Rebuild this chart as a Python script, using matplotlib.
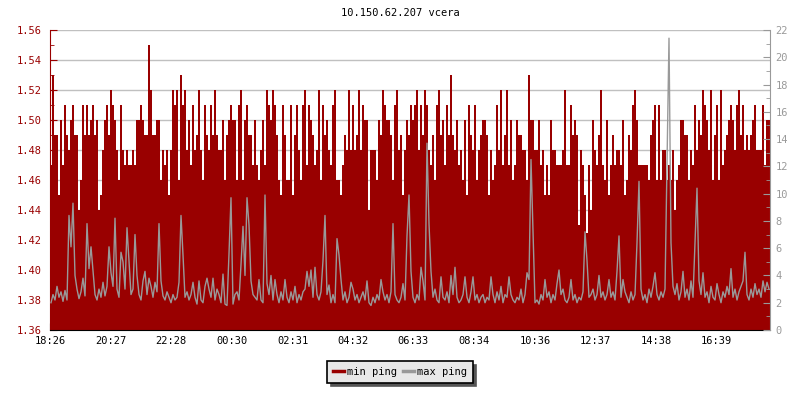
import numpy as np
import matplotlib.pyplot as plt
from matplotlib.ticker import MultipleLocator, FormatStrFormatter
from matplotlib.lines import Line2D

plt.rcParams['font.family'] = 'DejaVu Sans Mono'

title = '10.150.62.207 vcera'
series_names = ['min ping', 'max ping']
time_labels = ['18:26', '20:27', '22:28', '00:30', '02:31', '04:32',
               '06:33', '08:34', '10:36', '12:37', '14:38', '16:39']
start_time = '18:26'
step_min = 4  # one sample every 4 minutes

# min ping [ms], left axis
min_ping = [
    1.47, 1.53, 1.49, 1.49, 1.45, 1.50, 1.47, 1.51, 1.49, 1.48, 1.50, 1.51, 1.49, 1.49, 1.44, 1.46, 1.51, 1.49,
    1.51, 1.49, 1.50, 1.51, 1.49, 1.50, 1.44, 1.45, 1.48, 1.50, 1.51, 1.49, 1.52, 1.51, 1.50, 1.48, 1.46, 1.51,
    1.48, 1.47, 1.48, 1.47, 1.47, 1.48, 1.47, 1.50, 1.50, 1.51, 1.50, 1.49, 1.49, 1.55, 1.52, 1.49, 1.49, 1.50,
    1.50, 1.46, 1.48, 1.47, 1.48, 1.45, 1.48, 1.52, 1.51, 1.52, 1.46, 1.53, 1.51, 1.52, 1.48, 1.50, 1.47, 1.51,
    1.48, 1.49, 1.52, 1.48, 1.46, 1.51, 1.49, 1.48, 1.51, 1.49, 1.52, 1.49, 1.48, 1.48, 1.50, 1.46, 1.49, 1.50,
    1.51, 1.50, 1.50, 1.46, 1.51, 1.52, 1.46, 1.50, 1.51, 1.49, 1.49, 1.47, 1.50, 1.47, 1.46, 1.48, 1.50, 1.47,
    1.52, 1.51, 1.50, 1.52, 1.51, 1.49, 1.46, 1.45, 1.51, 1.49, 1.46, 1.46, 1.51, 1.45, 1.49, 1.51, 1.48, 1.46,
    1.51, 1.52, 1.47, 1.51, 1.50, 1.49, 1.47, 1.48, 1.52, 1.46, 1.51, 1.49, 1.50, 1.48, 1.47, 1.51, 1.52, 1.46,
    1.46, 1.45, 1.47, 1.49, 1.48, 1.52, 1.48, 1.51, 1.48, 1.49, 1.52, 1.48, 1.51, 1.50, 1.50, 1.44, 1.48, 1.48,
    1.48, 1.46, 1.50, 1.49, 1.52, 1.51, 1.50, 1.50, 1.49, 1.46, 1.51, 1.52, 1.48, 1.49, 1.45, 1.48, 1.50, 1.49,
    1.51, 1.50, 1.51, 1.52, 1.48, 1.51, 1.49, 1.52, 1.51, 1.48, 1.47, 1.49, 1.46, 1.51, 1.52, 1.49, 1.50, 1.47,
    1.51, 1.49, 1.53, 1.49, 1.48, 1.50, 1.47, 1.48, 1.46, 1.50, 1.45, 1.51, 1.49, 1.48, 1.51, 1.46, 1.48, 1.49,
    1.50, 1.50, 1.49, 1.45, 1.48, 1.46, 1.47, 1.51, 1.48, 1.52, 1.47, 1.49, 1.52, 1.47, 1.50, 1.46, 1.47, 1.50,
    1.49, 1.49, 1.48, 1.48, 1.46, 1.53, 1.50, 1.50, 1.48, 1.48, 1.50, 1.47, 1.48, 1.45, 1.47, 1.45, 1.50, 1.48,
    1.48, 1.47, 1.47, 1.47, 1.48, 1.52, 1.47, 1.47, 1.51, 1.49, 1.50, 1.49, 1.43, 1.48, 1.47, 1.45, 1.425, 1.47,
    1.44, 1.50, 1.48, 1.47, 1.49, 1.52, 1.47, 1.46, 1.50, 1.45, 1.47, 1.49, 1.47, 1.48, 1.48, 1.47, 1.50, 1.45,
    1.46, 1.49, 1.48, 1.51, 1.52, 1.50, 1.47, 1.47, 1.47, 1.47, 1.47, 1.46, 1.49, 1.50, 1.51, 1.46, 1.51, 1.46,
    1.48, 1.48, 1.46, 1.47, 1.46, 1.48, 1.44, 1.46, 1.47, 1.50, 1.50, 1.49, 1.49, 1.46, 1.48, 1.47, 1.51, 1.48,
    1.50, 1.49, 1.52, 1.51, 1.50, 1.48, 1.52, 1.46, 1.49, 1.51, 1.46, 1.52, 1.47, 1.48, 1.49, 1.50, 1.51, 1.50,
    1.48, 1.51, 1.52, 1.49, 1.51, 1.48, 1.49, 1.48, 1.49, 1.50, 1.51, 1.48, 1.48, 1.48, 1.51, 1.47, 1.50, 1.50,
]

# max ping [ms], right axis
max_ping = [
    2.0, 2.6, 2.2, 3.2, 2.4, 2.8, 2.1, 2.9, 2.2, 8.4, 6.1, 9.3, 4.0, 3.0, 2.3, 2.8, 3.8, 2.5,
    7.8, 4.5, 6.1, 4.3, 2.6, 2.2, 3.0, 2.4, 3.5, 2.5, 3.2, 6.1, 4.2, 3.2, 8.2, 3.0, 2.4, 5.7,
    5.0, 3.0, 7.5, 5.0, 2.6, 3.0, 7.0, 4.0, 2.6, 2.2, 3.6, 4.3, 2.6, 3.8, 3.2, 2.4, 3.5, 2.8,
    7.8, 3.6, 2.5, 2.2, 2.8, 2.4, 2.0, 2.6, 2.2, 2.4, 3.5, 8.4, 5.5, 2.4, 2.8, 2.2, 2.6, 3.5,
    2.4, 1.9, 3.6, 2.2, 2.0, 3.2, 3.8, 3.0, 2.4, 3.8, 2.2, 3.0, 2.6, 2.0, 4.1, 1.9, 1.8, 5.6,
    9.7, 1.9, 2.6, 2.8, 2.2, 4.8, 7.6, 4.0, 9.7, 7.7, 3.6, 2.6, 2.4, 2.2, 3.7, 2.2, 2.0, 9.9,
    3.4, 2.6, 4.0, 2.2, 3.7, 2.6, 2.0, 2.8, 2.2, 3.7, 2.4, 2.0, 2.8, 2.2, 3.2, 2.0, 2.6, 2.2,
    2.8, 3.0, 4.3, 3.2, 4.4, 2.4, 4.6, 2.6, 2.2, 2.8, 5.1, 8.4, 2.6, 3.3, 2.0, 2.6, 2.0, 6.7,
    5.5, 3.7, 2.2, 2.8, 2.0, 2.4, 3.5, 3.0, 2.2, 2.6, 2.0, 2.4, 2.8, 2.2, 3.6, 2.0, 1.8, 2.4,
    2.0, 2.6, 2.2, 3.7, 2.8, 2.2, 2.6, 2.0, 2.8, 7.8, 2.6, 2.2, 2.0, 2.4, 3.4, 2.2, 6.9, 9.9,
    4.3, 2.4, 2.0, 2.6, 2.2, 4.6, 3.6, 2.2, 13.7, 7.8, 4.3, 2.4, 3.0, 2.2, 2.0, 3.9, 2.4, 2.2,
    2.8, 2.0, 4.0, 2.6, 4.6, 2.4, 2.0, 2.2, 2.6, 3.9, 2.4, 2.0, 2.8, 3.9, 2.2, 2.6, 2.0, 2.4,
    2.6, 2.0, 2.4, 2.2, 3.9, 2.6, 2.0, 2.8, 2.2, 3.2, 2.0, 2.6, 2.4, 3.9, 2.6, 2.2, 2.0, 2.4,
    2.2, 3.0, 2.0, 2.6, 4.2, 3.7, 12.5, 7.2, 2.0, 2.2, 1.9, 2.6, 2.2, 3.7, 2.4, 2.8, 2.0, 2.6,
    2.2, 3.4, 4.4, 2.6, 3.0, 2.2, 2.0, 2.4, 3.7, 2.2, 2.6, 2.0, 2.4, 2.2, 2.8, 7.2, 5.1, 2.4,
    2.6, 3.0, 2.2, 2.6, 4.0, 2.4, 2.8, 2.2, 2.6, 3.7, 2.4, 2.8, 2.2, 4.3, 6.9, 2.4, 3.7, 2.8,
    2.4, 2.0, 2.8, 2.2, 2.6, 6.4, 10.9, 3.0, 2.2, 2.6, 2.0, 3.0, 2.4, 3.2, 4.2, 2.6, 2.2, 2.8,
    2.4, 3.0, 12.1, 21.4, 6.4, 3.2, 2.6, 3.4, 2.2, 2.8, 4.3, 2.4, 3.0, 2.2, 3.6, 2.4, 6.3, 10.4,
    3.6, 2.6, 4.2, 2.4, 2.8, 2.0, 3.2, 2.4, 2.2, 3.4, 2.6, 2.0, 2.8, 2.4, 3.2, 2.6, 4.5, 2.4,
    3.0, 2.2, 2.8, 3.2, 3.6, 5.7, 2.6, 2.2, 3.0, 2.4, 3.4, 2.6, 3.0, 2.4, 3.6, 2.8, 3.5, 3.0,
]

red = '#990000'
gray = '#999999'


def minutes_from_start(label):
    h, m = map(int, label.split(':'))
    h0, m0 = map(int, start_time.split(':'))
    return (h * 60 + m - (h0 * 60 + m0)) % 1440


edges = np.arange(len(min_ping) + 1) * step_min
centers = edges[:-1] + step_min / 2
tick_pos = [minutes_from_start(t) for t in time_labels]

fig = plt.figure(figsize=(8, 4), dpi=100)
ax = fig.add_axes([0.0625, 0.175, 0.9, 0.75])

# min ping - filled area
ax.stairs(min_ping, edges, baseline=1.36, fill=True, color=red, lw=0)
ax.set_xlim(0, 1440)
ax.set_ylim(1.36, 1.56)
ax.yaxis.set_major_locator(MultipleLocator(0.02))
ax.yaxis.set_minor_locator(MultipleLocator(0.01))
ax.yaxis.set_major_formatter(FormatStrFormatter('%.2f'))
ax.tick_params(axis='y', which='both', direction='in', colors=red, labelsize=7.5, pad=6)
ax.tick_params(axis='y', which='major', length=5)
ax.tick_params(axis='y', which='minor', length=3)
ax.set_xticks(tick_pos, time_labels)
ax.tick_params(axis='x', direction='in', length=5, colors='black', labelsize=7.5, pad=4)
ax.grid(axis='y', color='#c0c0c0', lw=1)
ax.set_axisbelow(True)
ax.spines['top'].set_visible(False)
ax.spines['right'].set_visible(False)
ax.spines['left'].set_color(red)
ax.spines['bottom'].set_color('black')

# max ping - line on right axis
ax2 = ax.twinx()
ax2.plot(centers, max_ping, color=gray, lw=1.0)
ax2.set_xlim(0, 1440)
ax2.set_ylim(0, 22)
ax2.yaxis.set_major_locator(MultipleLocator(2))
ax2.yaxis.set_minor_locator(MultipleLocator(1))
ax2.tick_params(axis='y', which='both', direction='in', colors=gray, labelsize=7.5, pad=4)
ax2.tick_params(axis='y', which='major', length=5)
ax2.tick_params(axis='y', which='minor', length=3)
for s in ['top', 'left', 'bottom']:
    ax2.spines[s].set_visible(False)
ax2.spines['right'].set_color(gray)

fig.text(0.5, 0.9675, title, ha='center', va='center', fontsize=7.5)

handles = [Line2D([], [], color=red, lw=2.5), Line2D([], [], color=gray, lw=2.5)]
leg = fig.legend(handles, series_names, loc='center', bbox_to_anchor=(0.5, 0.07),
                 ncol=2, fontsize=7.5, frameon=True, fancybox=False,
                 edgecolor='black', facecolor='#e8e8e8', framealpha=1,
                 shadow={'color': '#555555', 'alpha': 1, 'ox': 2.5, 'oy': -2.5},
                 handlelength=1.1, handletextpad=0.3, columnspacing=0.5,
                 borderpad=0.55)
leg.get_frame().set_linewidth(1.2)

fig.savefig('out.png', dpi=100)
